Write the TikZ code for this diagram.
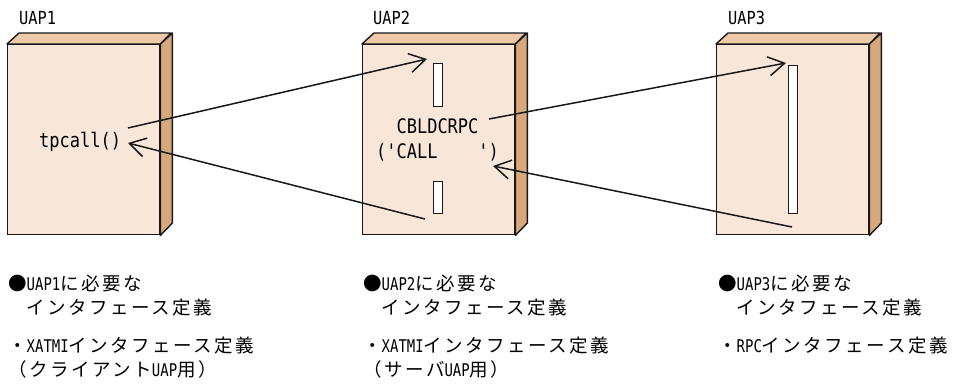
\documentclass[tikz,border=0pt]{standalone}
\usepackage{fontspec}
\usetikzlibrary{arrows.meta}
\newfontfamily\lat[FakeStretch=0.85]{DejaVu Sans Mono}
\newfontfamily\latn[FakeStretch=0.8]{DejaVu Sans Mono}
\newfontfamily\jp[LetterSpace=13.5]{Noto Sans CJK JP}
\definecolor{frontc}{RGB}{248,231,216}
\definecolor{topc}{RGB}{236,202,168}
\definecolor{sidec}{RGB}{214,168,124}
\definecolor{edgec}{RGB}{25,25,25}
\newcommand\J[1]{{\jp\fontsize{18.5pt}{22pt}\selectfont #1}}
\newcommand\Lt[1]{{\latn\fontsize{17.5pt}{22pt}\selectfont #1}}
\tikzset{
  frontface/.style={draw=edgec, fill=frontc, line width=1.4pt, minimum width=152pt, minimum height=190pt, inner sep=0pt, anchor=north west},
  facetop/.style={draw=edgec, fill=topc, line width=1.4pt, line join=round},
  faceside/.style={draw=edgec, fill=sidec, line width=1.4pt, line join=round},
  slot/.style={draw=edgec, fill=white, line width=1.2pt, minimum width=9pt, inner sep=0pt, anchor=north west},
  arr/.style={-{Straight Barb[length=16pt,width=19pt,line width=1.5pt]}, line width=1.5pt, edgec},
  title/.style={font=\lat\fontsize{18pt}{20pt}\selectfont, inner sep=0pt, anchor=base west},
  code/.style={font=\lat\fontsize{20pt}{22pt}\selectfont, inner sep=0pt},
  note/.style={inner sep=0pt, anchor=base west}
}
\begin{document}
\begin{tikzpicture}[x=1pt,y=-1pt]
\useasboundingbox (0,0) rectangle (974,385);
% boxes
\foreach \n/\x in {1/7,2/362,3/716}{
  \node[frontface] (b\n) at (\x,44) {};
  \filldraw[facetop] (b\n.north west) -- ++(12,-11) -- ++(152,0) -- (b\n.north east) -- cycle;
  \filldraw[faceside] (b\n.north east) -- ++(12,-11) -- ++(0,190) -- (b\n.south east) -- cycle;
}
% slots
\node[slot, minimum height=43pt] (s2a) at (433,63) {};
\node[slot, minimum height=32pt] (s2b) at (433,181) {};
\node[slot, minimum height=148pt] (s3) at (788,65) {};
% titles
\node[title] (u1) at (19,25) {UAP1};
\node[title] (u2) at (373,25) {UAP2};
\node[title] (u3) at (728,25) {UAP3};
% code texts
\node[code, anchor=base west] (tp) at (39,147) {tpcall()};
\node[code, anchor=base] (cb1) at (437.5,133) {CBLDCRPC};
\node[code, anchor=base] (cb2) at (437.5,158) {('CALL\hphantom{CALL}')};
% arrow ends
\coordinate (a1s) at (128,128);
\coordinate (a1e) at (427,59);
\coordinate (a2s) at (425,219);
\coordinate (a2e) at (128,143);
\coordinate (a3s) at (489,119);
\coordinate (a3e) at (786,63);
\coordinate (a4s) at (792,227);
\coordinate (a4e) at (493,166);
\draw[arr] (a1s) -- (a1e);
\draw[arr] (a2s) -- (a2e);
\draw[arr] (a3s) -- (a3e);
\draw[arr] (a4s) -- (a4e);
% notes
\foreach \c/\x in {1/8,2/363,3/718}{
  \node[note] (n\c a) at (\x,290) {\J{●}\Lt{UAP\c}\J{に必要な}};
  \node[note] (n\c b) at (\x,314) {\J{\hphantom{●}インタフェース定義}};
}
\node[note] (n1c) at (8,352) {\J{・}\Lt{XATMI}\J{インタフェース定義}};
\node[note] (n1d) at (8,376) {\J{（クライアント}\Lt{UAP}\J{用）}};
\node[note] (n2c) at (363,352) {\J{・}\Lt{XATMI}\J{インタフェース定義}};
\node[note] (n2d) at (363,376) {\J{（サーバ}\Lt{UAP}\J{用）}};
\node[note] (n3c) at (718,352) {\J{・}\Lt{RPC}\J{インタフェース定義}};
\end{tikzpicture}
\end{document}
